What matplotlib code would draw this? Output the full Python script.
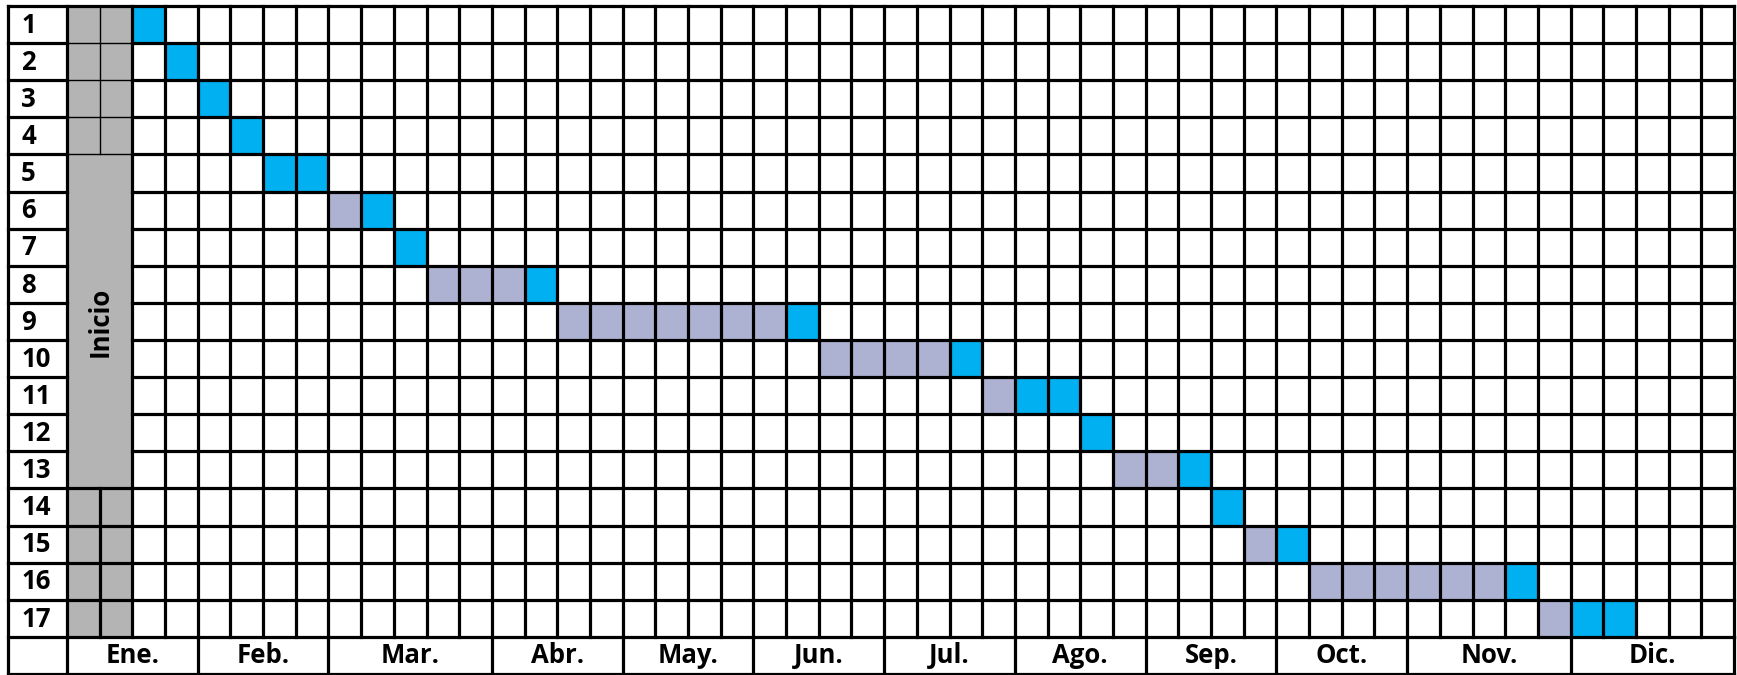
import matplotlib
matplotlib.use("Agg")
import matplotlib.pyplot as plt

# ---- data ----
tasks = [str(i) for i in range(1, 18)]
start_week = [2, 3, 4, 5, 6, 8, 10, 11, 15, 23, 28, 31, 32, 35, 36, 38, 45]
wait_weeks = [0, 0, 0, 0, 0, 1, 0, 3, 7, 4, 1, 0, 2, 0, 1, 6, 1]
work_weeks = [1, 1, 1, 1, 2, 1, 1, 1, 1, 1, 2, 1, 1, 1, 1, 1, 2]
months = ['Ene.', 'Feb.', 'Mar.', 'Abr.', 'May.', 'Jun.', 'Jul.', 'Ago.',
          'Sep.', 'Oct.', 'Nov.', 'Dic.']
weeks_per_month = [4, 4, 5, 4, 4, 4, 4, 4, 4, 4, 5, 5]
inicio_label = 'Inicio'
inicio_weeks = 2
inicio_merged_rows = (5, 13)  # tasks whose gray cells are merged

BLUE = '#00B0F0'
PURPLE = '#AEB2D2'
GRAY = '#B4B4B4'
FONT = ['Open Sans', 'Noto Sans', 'DejaVu Sans']
FS = 18.5

W, H = 1737, 675
fig = plt.figure(figsize=(W / 100, H / 100), dpi=100)
left_px, right_px, top_px, bot_px = 8, 1734, 6, 674
ax = fig.add_axes([left_px / W, (H - bot_px) / H, (right_px - left_px) / W, (bot_px - top_px) / H])

nweeks = sum(weeks_per_month)
nrows = len(tasks)
col_w_px = (right_px - 67) / nweeks
label_w = (67 - left_px) / col_w_px
ax.set_xlim(-label_w, nweeks)
ax.set_ylim(nrows + 1, 0)
ax.axis('off')

# gray "Inicio" cells
m0, m1 = inicio_merged_rows
for i in range(nrows):
    if m0 - 1 <= i <= m1 - 1:
        continue
    ax.barh(i + 0.5, inicio_weeks, left=0, height=1, color=GRAY, linewidth=0, zorder=1)
ax.barh((m0 - 1 + m1) / 2, inicio_weeks, left=0, height=m1 - m0 + 1, color=GRAY, linewidth=0, zorder=1)
ax.text(inicio_weeks / 2, (m0 - 1 + m1) / 2, inicio_label, rotation=90, ha='center', va='center',
        fontsize=FS, fontweight='bold', family=FONT, color='black', zorder=5)

# task cells
for i in range(nrows):
    if wait_weeks[i]:
        ax.barh(i + 0.5, wait_weeks[i], left=start_week[i], height=1, color=PURPLE, linewidth=0, zorder=1)
    ax.barh(i + 0.5, work_weeks[i], left=start_week[i] + wait_weeks[i], height=1, color=BLUE,
            linewidth=0, zorder=1)

LW = 2.3
THIN = 1.0
kw = dict(color='black', solid_capstyle='projecting', clip_on=False, zorder=3)

# horizontal lines
for r in range(nrows + 2):
    if m0 <= r <= m1 - 1:  # inside merged block: skip the gray part
        ax.plot([-label_w, 0], [r, r], lw=LW, **kw)
        ax.plot([inicio_weeks, nweeks], [r, r], lw=LW, **kw)
    elif 1 <= r <= m0 - 1:
        ax.plot([-label_w, 0], [r, r], lw=LW, **kw)
        ax.plot([0, inicio_weeks], [r, r], lw=THIN, color='black', clip_on=False, zorder=3)
        ax.plot([inicio_weeks, nweeks], [r, r], lw=LW, **kw)
    else:
        ax.plot([-label_w, nweeks], [r, r], lw=LW, **kw)

# vertical lines in task area
for c in range(nweeks + 1):
    if c == 1:
        ax.plot([c, c], [0, m0 - 1], lw=THIN, color='black', clip_on=False, zorder=3)
        ax.plot([c, c], [m1, nrows], lw=LW, **kw)
    else:
        ax.plot([c, c], [0, nrows], lw=LW, **kw)
ax.plot([-label_w, -label_w], [0, nrows + 1], lw=LW, **kw)

# month row
pos = 0
ax.plot([0, 0], [nrows, nrows + 1], lw=LW, **kw)
for name, n in zip(months, weeks_per_month):
    ax.text(pos + n / 2, nrows + 0.5, name, ha='center', va='center', fontsize=FS,
            fontweight='bold', family=FONT)
    pos += n
    ax.plot([pos, pos], [nrows, nrows + 1], lw=LW, **kw)

# task numbers
for i, t in enumerate(tasks):
    ax.text(-label_w + 0.4, i + 0.52, t, ha='left', va='center', fontsize=FS,
            fontweight='bold', family=FONT)

fig.savefig('out.png', dpi=100, facecolor='white')
